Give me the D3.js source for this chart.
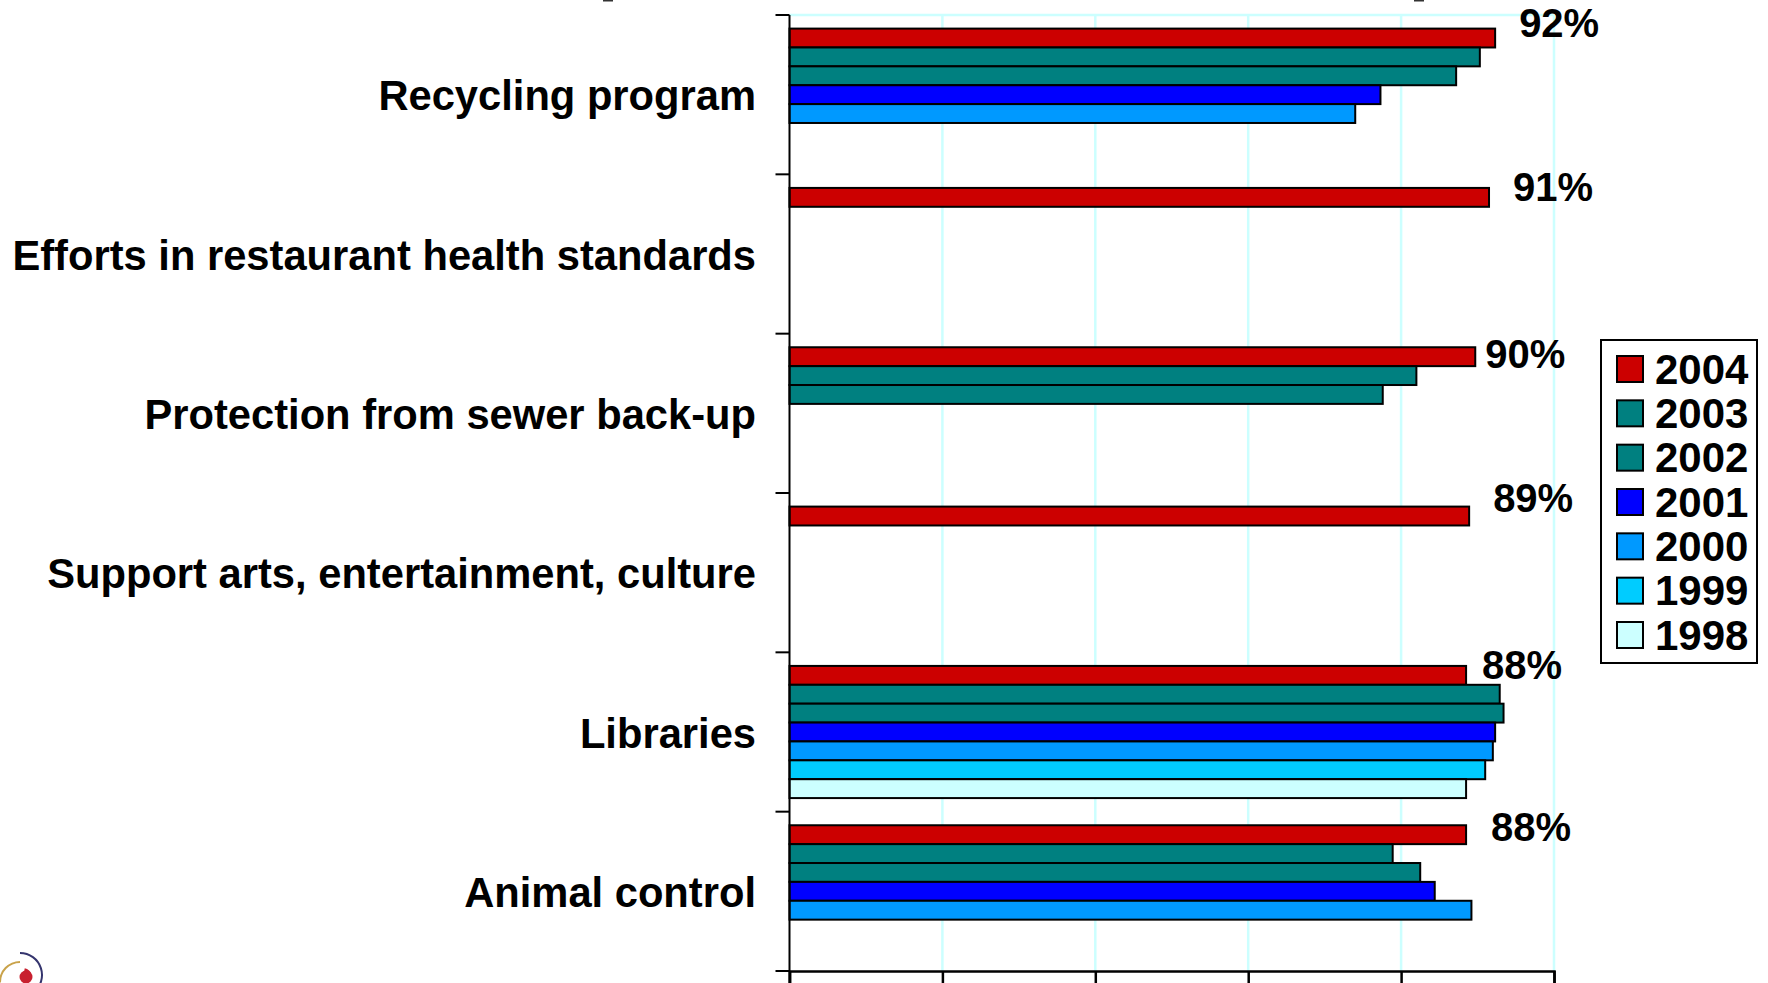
<!DOCTYPE html>
<html>
<head>
<meta charset="utf-8">
<script src="https://d3js.org/d3.v7.min.js"></script>
<style>
html,body{margin:0;padding:0;background:#fff;overflow:hidden}
svg{display:block}
text{font-family:"Liberation Sans",Arial,sans-serif;font-weight:bold;fill:#000}
</style>
</head>
<body>
<svg id="chart" width="1768" height="983"></svg>
<script>
// categories, top to bottom
const categories = ["Recycling program", "Efforts in restaurant health standards", "Protection from sewer back-up",
  "Support arts, entertainment, culture", "Libraries", "Animal control"];
const years = ["2004", "2003", "2002", "2001", "2000", "1999", "1998"];
const yearColors = ["#cc0000", "#008080", "#008080", "#0000ff", "#0099ff", "#00ccff", "#ccffff"];

// one list per year, same order as categories (null = no survey that year)
const v2004 = [92.3, 91.5, 89.7, 88.9, 88.5, 88.5];
const v2003 = [90.3, null, 82.0, null, 92.9, 78.9];
const v2002 = [87.2, null, 77.6, null, 93.4, 82.5];
const v2001 = [77.3, null, null, null, 92.3, 84.4];
const v2000 = [74.0, null, null, null, 92.0, 89.2];
const v1999 = [null, null, null, null, 91.0, null];
const v1998 = [null, null, null, null, 88.5, null];
const series = [v2004, v2003, v2002, v2001, v2000, v1999, v1998];

const labels = ["92%", "91%", "90%", "89%", "88%", "88%"];
const xTicks = [0, 20, 40, 60, 80, 100];

const svg = d3.select("#chart");

const x = d3.scaleLinear().domain([0, 100]).range([789.5, 1554]);
const y = d3.scaleBand().domain(categories).range([15, 971]);
const yInner = d3.scaleBand().domain(years).range([0, y.bandwidth()]).paddingOuter(0.72);

// gridlines
svg.append("g").selectAll("line").data(xTicks.slice(1)).join("line")
  .attr("x1", d => x(d)).attr("x2", d => x(d))
  .attr("y1", y.range()[0]).attr("y2", y.range()[1])
  .attr("stroke", "#ccffff").attr("stroke-width", 2.5);
svg.append("line")
  .attr("x1", x(0)).attr("x2", x(100))
  .attr("y1", 15).attr("y2", 15)
  .attr("stroke", "#ccffff").attr("stroke-width", 2.5);

// bars
years.forEach((yr, s) => {
  svg.append("g").selectAll("rect")
    .data(series[s].map((v, i) => ({v: v, cat: categories[i]})).filter(d => d.v !== null))
    .join("rect")
    .attr("x", x(0))
    .attr("y", d => y(d.cat) + yInner(yr))
    .attr("width", d => x(d.v) - x(0))
    .attr("height", yInner.bandwidth())
    .attr("fill", yearColors[s])
    .attr("stroke", "#000")
    .attr("stroke-width", 2);
});

// axes: ticks sit on the band edges, so the left one is built by hand
const edges = categories.map(c => y(c)).concat([y.range()[1]]);
svg.append("g").selectAll("line").data(edges).join("line")
  .attr("x1", x(0) - 14).attr("x2", x(0))
  .attr("y1", d => d).attr("y2", d => d)
  .attr("stroke", "#000").attr("stroke-width", 2);
svg.append("line")
  .attr("x1", x(0)).attr("x2", x(0))
  .attr("y1", 15).attr("y2", 983)
  .attr("stroke", "#000").attr("stroke-width", 2);

const xAxis = svg.append("g")
  .attr("transform", "translate(0,971)")
  .call(d3.axisBottom(x).tickValues(xTicks).tickSize(14).tickFormat(""));
xAxis.select(".domain").attr("stroke-width", 2.5);
xAxis.selectAll("line").attr("stroke-width", 2.5);

// category labels
svg.append("g").selectAll("text").data(categories).join("text")
  .attr("x", 756)
  .attr("y", d => y(d) + y.bandwidth() / 2 + 1)
  .attr("dy", "0.35em")
  .attr("text-anchor", "end")
  .attr("font-size", 41.7)
  .text(d => d);

// value labels were dragged by hand in the original slide
const nudgeX = [24, 24, 10, 24, 16, 25];
const nudgeY = [-15.5, -10.5, -2.5, -18, -10.5, -8];
svg.append("g").selectAll("text").data(labels).join("text")
  .attr("x", (d, i) => x(v2004[i]) + nudgeX[i])
  .attr("y", (d, i) => y(categories[i]) + yInner("2004") + yInner.bandwidth() / 2 + nudgeY[i])
  .attr("dy", "0.35em")
  .attr("font-size", 40)
  .text(d => d);

// legend
const legend = svg.append("g");
legend.append("rect")
  .attr("x", 1601).attr("y", 340).attr("width", 156).attr("height", 323)
  .attr("fill", "#fff").attr("stroke", "#000").attr("stroke-width", 2);
const legendY = d3.scalePoint().domain(years).range([369, 635]);
legend.selectAll("rect.key").data(years).join("rect")
  .attr("class", "key")
  .attr("x", 1617).attr("width", 26)
  .attr("y", d => legendY(d) - 13).attr("height", 26)
  .attr("fill", (d, i) => yearColors[i])
  .attr("stroke", "#000").attr("stroke-width", 2);
legend.selectAll("text").data(years).join("text")
  .attr("x", 1655)
  .attr("y", d => legendY(d))
  .attr("dy", "0.35em")
  .attr("font-size", 42)
  .text(d => d);

// bits of the slide title cut off by the top edge
svg.append("g").selectAll("rect").data([603, 1414]).join("rect")
  .attr("x", d => d).attr("y", 0).attr("width", 10).attr("height", 1.5)
  .attr("fill", "#333");

// logo in the corner, cut by the bottom of the slide
const logo = svg.append("g");
const arc = d3.arc();
logo.append("path").attr("fill", "#35356e")
  .attr("transform", "translate(20,975)")
  .attr("d", arc({innerRadius: 21, outerRadius: 23, startAngle: 0, endAngle: 2.5}));
logo.append("path").attr("fill", "#c9a24a")
  .attr("transform", "translate(20,982)")
  .attr("d", arc({innerRadius: 19, outerRadius: 21, startAngle: -1.6, endAngle: 0}));
logo.append("circle").attr("cx", 26).attr("cy", 977).attr("r", 6.5).attr("fill", "#c8202f");
logo.append("path").attr("fill", "#c8202f")
  .attr("transform", "translate(23,977)")
  .attr("d", arc({innerRadius: 6, outerRadius: 9, startAngle: 0.2, endAngle: 1.2}));
</script>
</body>
</html>
